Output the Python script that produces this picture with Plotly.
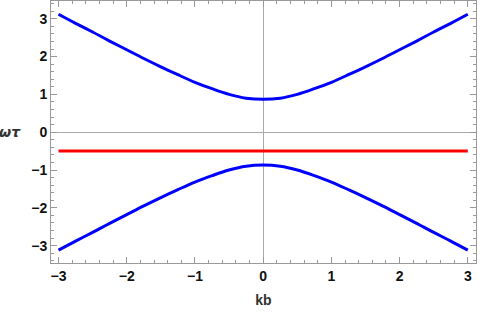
import plotly.graph_objects as go

# values (upper branch, symmetric in k)
kb = [-3.0, -2.75, -2.5, -2.25, -2.0, -1.75, -1.5, -1.25, -1.0, -0.75, -0.5, -0.25, 0.0,
      0.25, 0.5, 0.75, 1.0, 1.25, 1.5, 1.75, 2.0, 2.25, 2.5, 2.75, 3.0]
upper = [3.12, 2.88, 2.65, 2.41, 2.18, 1.95, 1.73, 1.52, 1.32, 1.15, 1.00, 0.90, 0.87,
         0.90, 1.00, 1.15, 1.32, 1.52, 1.73, 1.95, 2.18, 2.41, 2.65, 2.88, 3.12]
lower = [-v for v in upper]
flat_k = [-3.0, 3.0]
flat_w = [-0.5, -0.5]

fig = go.Figure()
fig.add_trace(go.Scatter(x=kb, y=upper, mode="lines", line=dict(color="#0000ff", width=3, shape="spline"), showlegend=False))
fig.add_trace(go.Scatter(x=kb, y=lower, mode="lines", line=dict(color="#0000ff", width=3, shape="spline"), showlegend=False))
fig.add_trace(go.Scatter(x=flat_k, y=flat_w, mode="lines", line=dict(color="#ff0000", width=3), showlegend=False))

font_ticks = dict(family="Liberation Sans, Arial", size=14, color="#111111", weight="bold")
axis_common = dict(
    showline=True, linecolor="#999999", linewidth=1, mirror="ticks",
    ticks="inside", ticklen=6, tickwidth=1, tickcolor="#999999",
    showgrid=False, zeroline=True, zerolinecolor="#aaaaaa", zerolinewidth=1,
    tickfont=font_ticks,
    minor=dict(ticks="inside", ticklen=3, tickcolor="#999999", dtick=0.2, showgrid=False),
    dtick=1,
)

fig.update_layout(
    width=478, height=314,
    margin=dict(l=51, r=2, t=1, b=51, autoexpand=False),
    paper_bgcolor="white", plot_bgcolor="white",
    xaxis=dict(range=[-3.11, 3.12], title=dict(text="kb", standoff=12,
               font=dict(family="Liberation Sans, Arial", size=14, color="#333333", weight="bold")), **axis_common),
    yaxis=dict(range=[-3.46, 3.47], **axis_common),
)
fig.add_annotation(text="<i>ωτ</i>", xref="paper", yref="y", x=-0.097, y=0, xanchor="center", yanchor="middle",
                   showarrow=False, font=dict(family="DejaVu Sans", size=14, color="#333333", weight="bold"))
fig.write_html("out.html", config={"displayModeBar": False},
               post_script="document.body.style.margin='0px';document.body.style.overflow='hidden';")
